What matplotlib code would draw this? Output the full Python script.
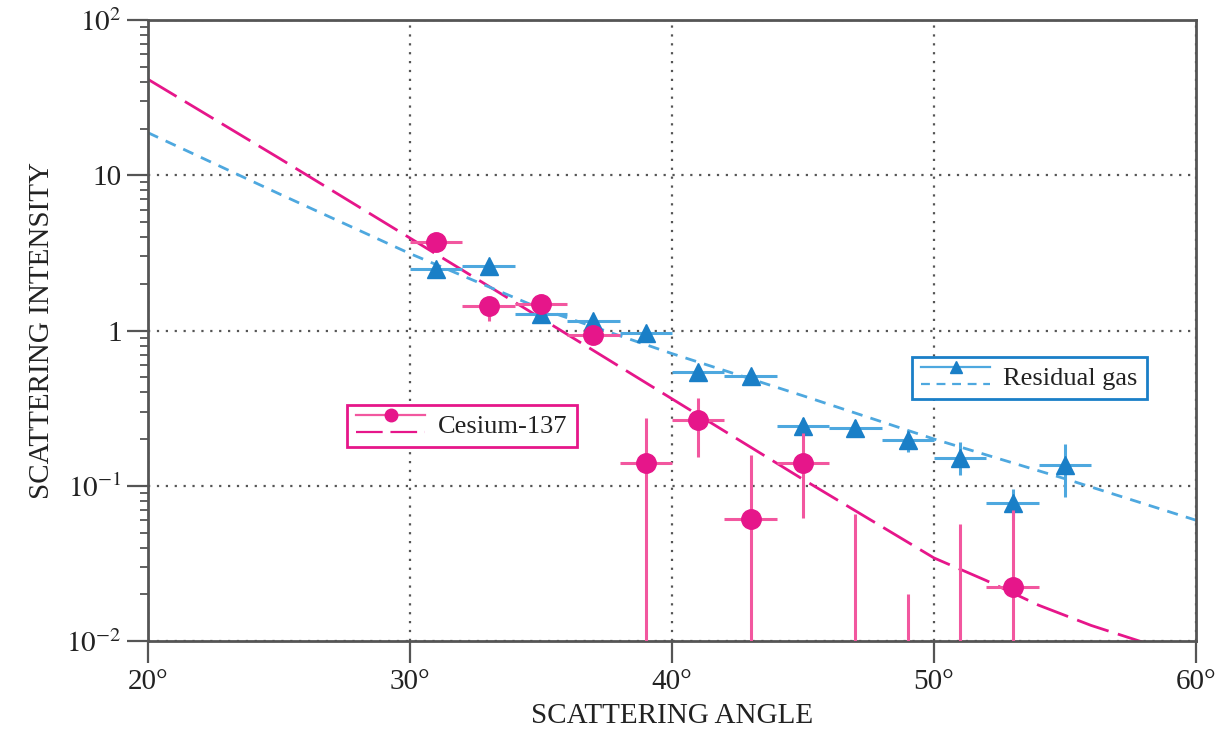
import matplotlib
matplotlib.use("Agg")
import matplotlib.pyplot as plt
from matplotlib.lines import Line2D
from matplotlib.legend_handler import HandlerBase
from matplotlib.ticker import FixedLocator, LogLocator, NullFormatter

plt.rcParams['font.family'] = ['Liberation Serif', 'DejaVu Serif']
plt.rcParams['mathtext.fontset'] = 'stix'

# Cesium-137 measured points (angle in degrees, intensity)
ces_x = [31, 33, 35, 37, 39, 41, 43, 45, 53]
ces_y = [3.7, 1.43, 1.48, 0.93, 0.14, 0.267, 0.061, 0.14, 0.0223]
ces_lo = [3.3, 1.16, 1.35, 0.84, 0.001, 0.154, 0.001, 0.062, 0.001]
ces_hi = [4.2, 1.62, 1.62, 1.03, 0.275, 0.37, 0.158, 0.22, 0.07]
# cesium bins whose value is off scale (only the upper error bar shows)
ces_lim_x = [47, 49, 51]
ces_lim_hi = [0.066, 0.020, 0.057]

# residual gas points
gas_x = [31, 33, 35, 37, 39, 41, 43, 45, 47, 49, 51, 53, 55]
gas_y = [2.5, 2.59, 1.28, 1.16, 0.97, 0.54, 0.51, 0.244, 0.234, 0.198, 0.152, 0.077, 0.136]
gas_lo = [2.35, 2.45, 1.2, 1.08, 0.9, 0.5, 0.47, 0.215, 0.205, 0.165, 0.118, 0.06, 0.085]
gas_hi = [2.65, 2.75, 1.38, 1.25, 1.05, 0.58, 0.55, 0.275, 0.265, 0.23, 0.19, 0.095, 0.187]
bin_half = 1.0

# theory curves
ces_fit_x = [20, 25, 30, 35, 40, 45, 50, 52, 54, 56, 58, 60]
ces_fit_y = [41.5, 12.9, 3.94, 1.2, 0.363, 0.11, 0.0343, 0.0245, 0.017, 0.0126, 0.0098, 0.0079]
gas_fit_x = [20, 25, 30, 35, 40, 45, 50, 55, 60]
gas_fit_y = [18.8, 7.6, 3.13, 1.38, 0.71, 0.38, 0.20, 0.111, 0.060]

x_ticks = [20, 30, 40, 50, 60]
y_ticks = [1e-2, 1e-1, 1, 10, 100]
y_labels = [r'$10^{-2}$', r'$10^{-1}$', '1', '10', r'$10^{2}$']

PINK = '#e6168a'
PINK_L = '#f2579f'
BLUE = '#1a7fc7'
BLUE_L = '#4ea8df'
AXC = '#555555'
TXT = '#222222'


class TwoRowHandler(HandlerBase):
    # legend key: solid line with marker on top, dashed fit line below
    def create_artists(self, legend, orig_handle, xdescent, ydescent,
                       width, height, fontsize, trans):
        c_err, c_mark, marker, dashes, c_fit = orig_handle
        y1 = height * 0.95 - ydescent
        y2 = height * 0.05 - ydescent
        x0, x1 = -xdescent, width - xdescent
        top = Line2D([x0, x1], [y1, y1], color=c_err, lw=1.6, transform=trans)
        mk = Line2D([(x0 + x1) / 2], [y1], marker=marker, color=c_mark,
                    markersize=9, lw=0, transform=trans)
        bot = Line2D([x0, x1], [y2, y2], color=c_fit, lw=1.6, dashes=dashes,
                     transform=trans)
        return [top, mk, bot]


fig = plt.figure(figsize=(12.26, 7.38), dpi=100)
ax = fig.add_axes([0.1207, 0.1314, 0.8548, 0.8415])

# fits
ax.plot(ces_fit_x, ces_fit_y, color=PINK, lw=2.0, dashes=(12, 3.5), zorder=2)
ax.plot(gas_fit_x, gas_fit_y, color=BLUE_L, lw=2.0, dashes=(4, 3), zorder=2)

# residual gas data
g_err = [[y - lo for y, lo in zip(gas_y, gas_lo)], [hi - y for y, hi in zip(gas_y, gas_hi)]]
ax.errorbar(gas_x, gas_y, xerr=bin_half, yerr=g_err, fmt='^', color=BLUE,
            ecolor=BLUE_L, elinewidth=2.2, markersize=13, capsize=0, zorder=3)

# cesium data
c_err = [[y - lo for y, lo in zip(ces_y, ces_lo)], [hi - y for y, hi in zip(ces_y, ces_hi)]]
ax.errorbar(ces_x, ces_y, xerr=bin_half, yerr=c_err, fmt='o', color=PINK,
            ecolor=PINK_L, elinewidth=2.2, markersize=14, capsize=0, zorder=4)
ax.vlines(ces_lim_x, 1e-3, ces_lim_hi, color=PINK_L, lw=2.2, zorder=4)

ax.set_xlim(20, 60)
ax.set_yscale('log')
ax.set_ylim(1e-2, 1e2)

ax.xaxis.set_major_locator(FixedLocator(x_ticks))
ax.set_xticklabels([f'{t}°' for t in x_ticks])
ax.yaxis.set_major_locator(FixedLocator(y_ticks))
ax.set_yticklabels(y_labels)
ax.yaxis.set_minor_locator(LogLocator(base=10, subs=range(2, 10)))
ax.yaxis.set_minor_formatter(NullFormatter())

ax.tick_params(axis='x', which='major', direction='out', length=16, width=1.6,
               color=AXC, labelsize=21, pad=4, labelcolor=TXT)
ax.tick_params(axis='y', which='major', direction='out', length=15, width=1.6,
               color=AXC, labelsize=21, pad=4, labelcolor=TXT)
ax.tick_params(axis='y', which='minor', direction='out', length=6, width=1.3, color=AXC)
ax.tick_params(top=False, right=False, which='both')

for sp in ax.spines.values():
    sp.set_color(AXC)
    sp.set_linewidth(2.0)

ax.grid(True, which='major', linestyle=(0, (1, 3)), color='#555555', lw=1.6)

ax.set_xlabel('SCATTERING ANGLE', fontsize=21, labelpad=6, color=TXT)
ax.set_ylabel('SCATTERING INTENSITY', fontsize=21, labelpad=8, color=TXT)

h_ces = (PINK_L, PINK, 'o', (12, 3.5), PINK)
h_gas = (BLUE_L, BLUE, '^', (4, 3), BLUE_L)
leg1 = ax.legend([h_ces], ['Cesium-137'], handler_map={tuple: TwoRowHandler()},
                 loc='upper left', bbox_to_anchor=(0.19, 0.38), borderaxespad=0,
                 fontsize=19, fancybox=False, framealpha=1, edgecolor=PINK,
                 handlelength=2.6, handletextpad=0.5, borderpad=0.35,
                 labelcolor=TXT)
leg1.get_frame().set_linewidth(2.0)
ax.add_artist(leg1)
leg2 = ax.legend([h_gas], ['Residual gas'], handler_map={tuple: TwoRowHandler()},
                 loc='upper left', bbox_to_anchor=(0.729, 0.457), borderaxespad=0,
                 fontsize=19, fancybox=False, framealpha=1, edgecolor=BLUE,
                 handlelength=2.6, handletextpad=0.5, borderpad=0.35,
                 labelcolor=TXT)
leg2.get_frame().set_linewidth(2.0)

fig.savefig('out.png', dpi=100)
